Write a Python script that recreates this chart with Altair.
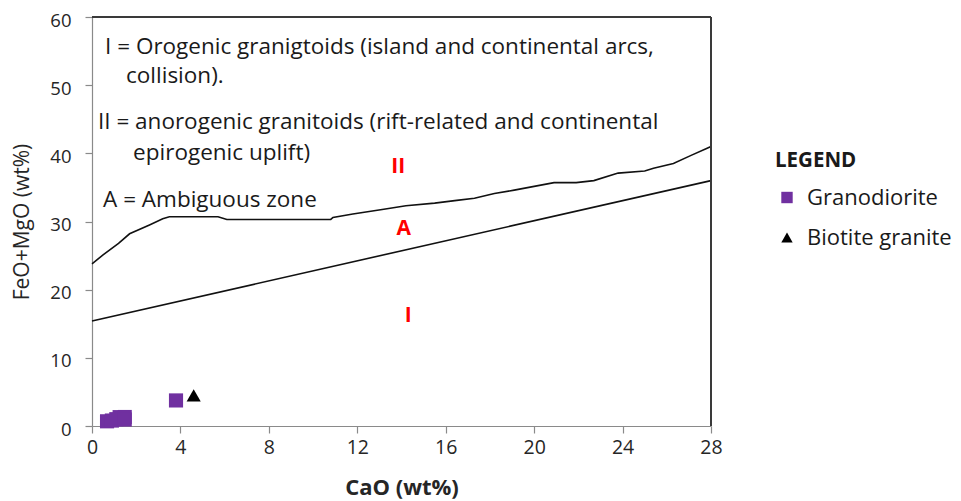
import altair as alt
import pandas as pd

# ---------------- data ----------------
rock_names = ["Granodiorite", "Biotite granite"]
rock_colors = ["#7030A0", "#000000"]
rock_shapes = ["square", "triangle-up"]

gd_cao = [0.68, 0.9, 1.1, 1.25, 1.48, 1.48, 3.8]
gd_feo = [0.69, 0.8, 1.0, 1.3, 1.32, 0.95, 3.75]
bg_cao = [4.6]
bg_feo = [4.5]

upper_x = [0, 0.5, 1.2, 1.7, 2.6, 3.2, 3.5, 5.7, 6.1, 8.0, 10.8, 10.9, 11.8, 13.2,
           14.2, 15.5, 16.5, 17.3, 18.2, 19.1, 20.9, 21.9, 22.7, 23.8, 25.0, 25.4,
           26.3, 27.1, 27.8, 28.0]
upper_y = [23.8, 25.1, 26.8, 28.2, 29.5, 30.4, 30.7, 30.7, 30.3, 30.3, 30.3, 30.6,
           31.1, 31.8, 32.3, 32.7, 33.1, 33.4, 34.1, 34.6, 35.7, 35.7, 36.0, 37.1,
           37.4, 37.8, 38.5, 39.7, 40.7, 41.0]
lower_x = [0, 28]
lower_y = [15.4, 36.0]

x_ticks = [0, 4, 8, 12, 16, 20, 24, 28]
y_ticks = [0, 10, 20, 30, 40, 50, 60]

note_text = ["I = Orogenic granigtoids (island and continental arcs,",
             "collision).",
             "II = anorogenic granitoids (rift-related and continental",
             "epirogenic uplift)",
             "A = Ambiguous zone"]
note_x = [0.59, 1.54, 0.27, 1.86, 0.5]
note_y = [55.6, 51.4, 44.6, 40.0, 33.2]

zone_text = ["II", "A", "I"]
zone_x = [13.85, 14.1, 14.3]
zone_y = [38.0, 28.9, 16.1]

FONT = "Open Sans"

# ---------------- tables ----------------
pts = pd.DataFrame({
    "CaO": gd_cao + bg_cao,
    "FeOMgO": gd_feo + bg_feo,
    "rock": ["Granodiorite"] * len(gd_cao) + ["Biotite granite"] * len(bg_cao),
})
upper = pd.DataFrame({"CaO": upper_x, "FeOMgO": upper_y})
lower = pd.DataFrame({"CaO": lower_x, "FeOMgO": lower_y})
notes = pd.DataFrame({"t": note_text, "CaO": note_x, "FeOMgO": note_y})
zones = pd.DataFrame({"t": zone_text, "CaO": zone_x, "FeOMgO": zone_y})

xs = alt.Scale(domain=[0, 28], nice=False, zero=False)
ys = alt.Scale(domain=[0, 60], nice=False, zero=False)

xaxis = alt.Axis(values=x_ticks, grid=False, tickSize=7, tickColor="#8a8a8a",
                 domainColor="#8a8a8a", domainWidth=1.2, tickWidth=1.2,
                 labelFont=FONT, labelFontSize=19.5, labelColor="#262626",
                 labelPadding=5, title="CaO (wt%)", titleFont=FONT,
                 titleFontSize=22, titleFontWeight="bold", titleColor="#262626",
                 titlePadding=21)
yaxis = alt.Axis(values=y_ticks, grid=False, tickSize=7, tickColor="#8a8a8a",
                 domainColor="#8a8a8a", domainWidth=1.2, tickWidth=1.2,
                 labelFont=FONT, labelFontSize=18.5, labelColor="#262626",
                 labelPadding=14, labelOffset=3, title="FeO+MgO (wt%)",
                 titleFont=FONT, titleFontSize=21, titleFontWeight="normal",
                 titleColor="#262626", titlePadding=17)

base_x = alt.X("CaO:Q", scale=xs, axis=xaxis)
base_y = alt.Y("FeOMgO:Q", scale=ys, axis=yaxis)

upper_line = alt.Chart(upper).mark_line(color="#111111", strokeWidth=1.6,
                                         interpolate="linear").encode(
    x=base_x, y=base_y, order="CaO:Q")
lower_line = alt.Chart(lower).mark_line(color="#111111", strokeWidth=1.6).encode(
    x=alt.X("CaO:Q", scale=xs), y=alt.Y("FeOMgO:Q", scale=ys))

# frame: top and right sides
top_rule = alt.Chart(pd.DataFrame({"a": [0]})).mark_rule(
    color="#3a3a3a", strokeWidth=2).encode(
    x=alt.datum(0, scale=xs), x2=alt.datum(28), y=alt.datum(60, scale=ys))
right_rule = alt.Chart(pd.DataFrame({"a": [0]})).mark_rule(
    color="#3a3a3a", strokeWidth=2).encode(
    x=alt.datum(28, scale=xs), y=alt.datum(0, scale=ys), y2=alt.datum(60))

note_layer = alt.Chart(notes).mark_text(
    align="left", baseline="middle", font=FONT, fontSize=22.5, color="#1a1a1a").encode(
    x=alt.X("CaO:Q", scale=xs), y=alt.Y("FeOMgO:Q", scale=ys), text="t:N")
zone_layer = alt.Chart(zones).mark_text(
    align="center", baseline="middle", font=FONT, fontSize=21, fontWeight="bold",
    color="#FF0000").encode(
    x=alt.X("CaO:Q", scale=xs), y=alt.Y("FeOMgO:Q", scale=ys), text="t:N")

legend = alt.Legend(title="LEGEND", orient="none", legendX=683, legendY=134,
                    padding=0, titleFont=FONT, titleFontSize=20.5,
                    titleFontWeight="bold", titleColor="#1a1a1a", titlePadding=15,
                    labelFont=FONT, labelFontSize=22, labelColor="#1a1a1a",
                    labelOffset=9, symbolSize=130, symbolOffset=1,
                    symbolStrokeWidth=0, rowPadding=18)

points = alt.Chart(pts).mark_point(filled=True, opacity=1, size=200).encode(
    x=alt.X("CaO:Q", scale=xs),
    y=alt.Y("FeOMgO:Q", scale=ys),
    color=alt.Color("rock:N", scale=alt.Scale(domain=rock_names, range=rock_colors),
                    legend=legend),
    shape=alt.Shape("rock:N", scale=alt.Scale(domain=rock_names, range=rock_shapes),
                    legend=legend),
)

chart = alt.layer(upper_line, lower_line, top_rule, right_rule, note_layer,
                  zone_layer, points).properties(
    width=619, height=409,
    autosize=alt.AutoSizeParams(type="none"),
    padding={"left": 84, "top": 9, "right": 242, "bottom": 75},
    background="white",
).configure_view(stroke=None).configure_axis(labelFlush=False)

chart.save("out.html", embed_options={"renderer": "svg", "actions": False})
